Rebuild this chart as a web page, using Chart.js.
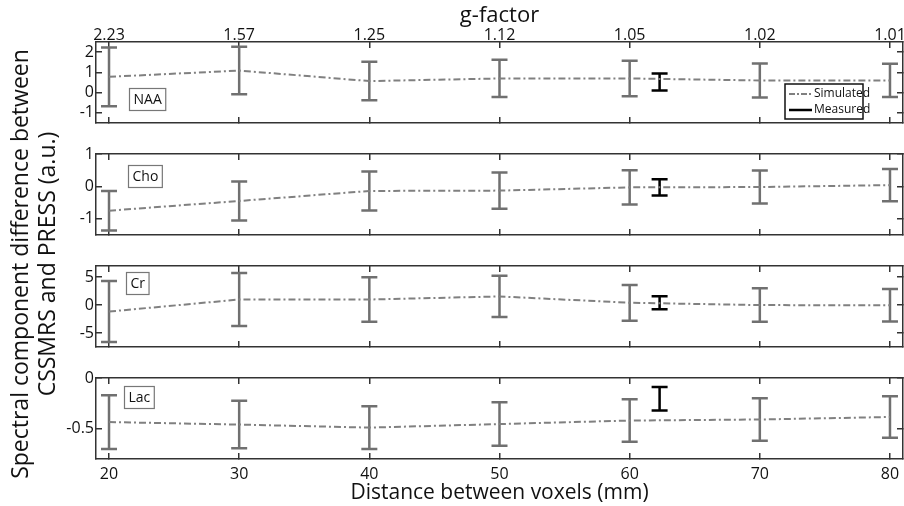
<!DOCTYPE html>
<html>
<head>
<meta charset="utf-8">
<script src="https://cdn.jsdelivr.net/npm/chart.js@4.4.1/dist/chart.umd.min.js"></script>
<style>
  body { margin: 0; background: #fff; }
  #wrap { position: relative; width: 904px; height: 506px; overflow: hidden; font-family: "Open Sans", sans-serif; }
  #wrap canvas { position: absolute; left: 0; top: 0; }
  #ytitle {
    position: absolute; width: 500px; height: 56px; left: -216px; top: 236px;
    transform: rotate(-90deg); transform-origin: center;
    text-align: center; font-size: 23px; line-height: 27px; color: #111; white-space: nowrap;
  }
</style>
</head>
<body>
<div id="wrap">
  <canvas id="c0" width="904" height="506"></canvas>
  <canvas id="c1" width="904" height="506"></canvas>
  <canvas id="c2" width="904" height="506"></canvas>
  <canvas id="c3" width="904" height="506"></canvas>
  <div id="ytitle">Spectral component difference between<br>CSSMRS and PRESS (a.u.)</div>
</div>
<script>
// distances between voxels (mm) and matching g-factor values on top axis
const distances = [20, 30, 40, 50, 60, 70, 80];
const gFactors = ["2.23", "1.57", "1.25", "1.12", "1.05", "1.02", "1.01"];
const measuredDistance = 62.3;

// simulated mean and error half-width, measured mean and half-width
const naaSim = [0.78, 1.09, 0.57, 0.70, 0.70, 0.60, 0.60];
const naaSimErr = [1.45, 1.17, 0.95, 0.92, 0.88, 0.84, 0.82];
const naaMeas = 0.52, naaMeasErr = 0.42;

const choSim = [-0.75, -0.45, -0.14, -0.13, -0.03, -0.02, 0.04];
const choSimErr = [0.61, 0.60, 0.60, 0.56, 0.53, 0.51, 0.50];
const choMeas = -0.03, choMeasErr = 0.25;

const crSim = [-1.15, 1.0, 1.0, 1.55, 0.42, 0.0, -0.02];
const crSimErr = [5.45, 4.75, 4.0, 3.7, 3.2, 3.0, 2.9];
const crMeas = 0.41, crMeasErr = 1.17;

const lacSim = [-0.435, -0.46, -0.49, -0.455, -0.42, -0.41, -0.385];
const lacSimErr = [0.265, 0.235, 0.21, 0.215, 0.21, 0.21, 0.205];
const lacMeas = -0.205, lacMeasErr = 0.115;

// y tick labels per panel
const naaTicks = [-1, 0, 1, 2];
const choTicks = [-1, 0, 1];
const crTicks = [-5, 0, 5];
const lacTicks = [-0.5, 0];

const FRAME = "#333";
const BAR = "#707070";

const panels = [
  { name: "NAA", sim: naaSim, err: naaSimErr, meas: naaMeas, measErr: naaMeasErr, ticks: naaTicks, min: -1.5, max: 2.5, top: 42, bottom: 123, box: [33, 46] },
  { name: "Cho", sim: choSim, err: choSimErr, meas: choMeas, measErr: choMeasErr, ticks: choTicks, min: -1.5, max: 1, top: 154, bottom: 235, box: [32, 11] },
  { name: "Cr", sim: crSim, err: crSimErr, meas: crMeas, measErr: crMeasErr, ticks: crTicks, min: -7.5, max: 7, top: 266, bottom: 347, box: [30, 6] },
  { name: "Lac", sim: lacSim, err: lacSimErr, meas: lacMeas, measErr: lacMeasErr, ticks: lacTicks, min: -0.8, max: 0, top: 378, bottom: 459, box: [28, 8] },
];

Chart.defaults.font.family = "'Open Sans', sans-serif";
Chart.defaults.color = "#111";

const errorBars = {
  id: "errorBars",
  beforeDatasetsDraw(chart) {
    const ctx = chart.ctx;
    const xs = chart.scales.x, ys = chart.scales.y;
    chart.data.datasets.forEach(ds => {
      if (!ds.errors) return;
      ctx.save();
      ctx.strokeStyle = ds.barColor;
      ctx.lineWidth = 2.5;
      ctx.setLineDash([]);
      ds.data.forEach((pt, i) => {
        const e = ds.errors[i];
        const x = xs.getPixelForValue(pt.x);
        const y1 = ys.getPixelForValue(pt.y - e);
        const y2 = ys.getPixelForValue(pt.y + e);
        ctx.beginPath();
        ctx.moveTo(x, y1); ctx.lineTo(x, y2);
        ctx.moveTo(x - 8, y1); ctx.lineTo(x + 8, y1);
        ctx.moveTo(x - 8, y2); ctx.lineTo(x + 8, y2);
        ctx.stroke();
      });
      ctx.restore();
    });
  }
};

const panelDecor = {
  id: "panelDecor",
  afterDraw(chart, args, opts) {
    const ctx = chart.ctx;
    const a = chart.chartArea;
    ctx.save();
    // metabolite name box
    ctx.font = "14px 'Open Sans', sans-serif";
    ctx.textBaseline = "middle";
    const w = ctx.measureText(opts.name).width + 8;
    const bx = a.left + opts.box[0], by = a.top + opts.box[1];
    ctx.fillStyle = "#fff";
    ctx.fillRect(bx, by, w, 22);
    ctx.strokeStyle = "#777";
    ctx.lineWidth = 1.2;
    ctx.strokeRect(bx + 0.5, by + 0.5, w, 22);
    ctx.fillStyle = "#111";
    ctx.fillText(opts.name, bx + 4.5, by + 12);
    if (opts.legend) {
      const lx = a.right - 118, ly = a.bottom - 39, lw = 78, lh = 35;
      ctx.fillStyle = "#fff";
      ctx.fillRect(lx, ly, lw, lh);
      ctx.strokeStyle = "#111";
      ctx.lineWidth = 1.5;
      ctx.strokeRect(lx, ly, lw, lh);
      ctx.font = "12px 'Open Sans', sans-serif";
      ctx.beginPath();
      ctx.strokeStyle = "#808080";
      ctx.lineWidth = 2;
      ctx.setLineDash([6, 2, 2, 2]);
      ctx.moveTo(lx + 4, ly + 10); ctx.lineTo(lx + 27, ly + 10);
      ctx.stroke();
      ctx.beginPath();
      ctx.setLineDash([]);
      ctx.strokeStyle = "#000";
      ctx.lineWidth = 2.5;
      ctx.moveTo(lx + 4, ly + 26); ctx.lineTo(lx + 27, ly + 26);
      ctx.stroke();
      ctx.fillStyle = "#111";
      ctx.fillText("Simulated", lx + 29, ly + 10);
      ctx.fillText("Measured", lx + 29, ly + 26);
    }
    ctx.restore();
  }
};

const gridOpts = { drawOnChartArea: false, drawTicks: true, tickLength: -6, color: FRAME, lineWidth: 1.5 };
const borderOpts = { display: true, color: FRAME, width: 1.5 };

panels.forEach((p, k) => {
  const first = k === 0, last = k === panels.length - 1;
  const distTicks = s => { s.ticks = distances.map(v => ({ value: v })); };
  const yTicks = s => { s.ticks = p.ticks.map(v => ({ value: v })); };
  const fitX = h => s => { s.height = h; s.paddingLeft = 0; s.paddingRight = 0; };
  const fitY = w => s => { s.width = w; s.paddingTop = 0; s.paddingBottom = 0; };

  new Chart(document.getElementById("c" + k), {
    type: "line",
    data: {
      datasets: [
        {
          label: "Simulated",
          data: distances.map((d, i) => ({ x: d, y: p.sim[i] })),
          errors: p.err,
          barColor: BAR,
          borderColor: "#808080",
          borderWidth: 2,
          borderDash: [7, 3, 2, 3],
          pointRadius: 0,
          tension: 0,
          fill: false,
        },
        {
          label: "Measured",
          data: [{ x: measuredDistance, y: p.meas }],
          errors: [p.measErr],
          barColor: "#000",
          borderColor: "#000",
          showLine: false,
          pointRadius: 0,
        },
      ],
    },
    options: {
      responsive: false,
      animation: false,
      devicePixelRatio: 1,
      events: [],
      layout: { padding: 0 },
      plugins: {
        legend: { display: false },
        tooltip: { enabled: false },
        panelDecor: { name: p.name, box: p.box, legend: first },
      },
      scales: {
        x: {
          type: "linear", position: "bottom", min: 19, max: 81,
          afterBuildTicks: distTicks,
          afterFit: fitX(506 - p.bottom),
          ticks: { display: last, font: { size: 16 }, padding: 12, autoSkip: false, maxRotation: 0, callback: v => String(v) },
          grid: gridOpts, border: borderOpts,
          title: { display: last, text: "Distance between voxels (mm)", font: { size: 21 }, color: "#111", padding: { top: 0, bottom: 0 } },
        },
        xTop: {
          type: "linear", position: "top", min: 19, max: 81,
          afterBuildTicks: distTicks,
          afterFit: fitX(p.top),
          ticks: { display: first, font: { size: 16 }, padding: 3, autoSkip: false, maxRotation: 0,
            callback: v => gFactors[distances.indexOf(v)] },
          grid: gridOpts, border: borderOpts,
          title: { display: first, text: "g-factor", font: { size: 22 }, color: "#111", padding: { top: 3, bottom: 0 } },
        },
        y: {
          type: "linear", position: "left", min: p.min, max: p.max,
          afterBuildTicks: yTicks,
          afterFit: fitY(96),
          ticks: { font: { size: 16 }, padding: 8, callback: v => String(v) },
          grid: gridOpts, border: borderOpts,
        },
        yRight: {
          type: "linear", position: "right", min: p.min, max: p.max,
          afterBuildTicks: yTicks,
          afterFit: fitY(1),
          ticks: { display: false },
          grid: gridOpts, border: borderOpts,
        },
      },
    },
    plugins: [errorBars, panelDecor],
  });
});
</script>
</body>
</html>
